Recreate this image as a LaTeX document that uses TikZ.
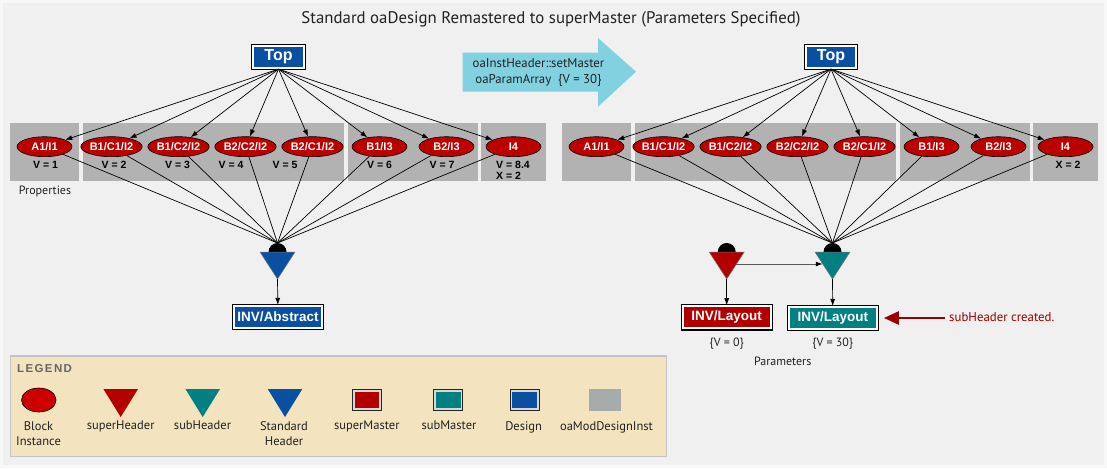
\documentclass[tikz,border=0pt]{standalone}
\usepackage{fontspec}
\setmainfont{PT Sans}
\newfontfamily\nodefont{Liberation Sans}
\usetikzlibrary{arrows.meta,shapes.geometric}
\definecolor{bgc}{HTML}{F0F0F0}
\definecolor{bgedge}{HTML}{F8F8F8}
\definecolor{oared}{HTML}{BB0000}
\definecolor{legred}{HTML}{CC0000}
\definecolor{oablue}{HTML}{0B4FA0}
\definecolor{oateal}{HTML}{008080}
\definecolor{grp}{HTML}{B2B2B2}
\definecolor{legbg}{HTML}{F3E3BF}
\definecolor{legborder}{HTML}{C4C4C4}
\definecolor{arrowblue}{HTML}{82D1E1}
\definecolor{darkred}{HTML}{9B0000}
\definecolor{modgray}{HTML}{A6ACA9}
\definecolor{txt}{HTML}{222222}
\newcommand\hdr[3]{% name, x, colour
  \fill[black] (#2,252) circle (9pt);
  \filldraw[fill=#3, draw=black!55, line width=0.5pt] (#2-17.5,252) -- (#2+17.5,252) -- (#2,279) -- cycle;
  \coordinate (#1-top) at (#2,243);
  \coordinate (#1-tip) at (#2,279);
  \coordinate (#1-r) at (#2+9.7,264);
  \coordinate (#1-l) at (#2-9.7,264);
}
\newcommand\legtri[2]{% x, colour
  \fill[#2] (#1-17.3,389) -- (#1+17.3,389) -- (#1,417) -- cycle;
}
\begin{document}
\begin{tikzpicture}[x=1pt,y=-1pt,
  inst/.style={ellipse, draw=black, line width=0.6pt, fill=oared, minimum width=55pt, minimum height=20pt, inner sep=0pt, text=white, font=\nodefont\bfseries\fontsize{11}{11}\selectfont},
  master/.style={preaction={draw=black, line width=4.4pt}, draw=white, line width=2.2pt, inner sep=0pt, minimum height=22pt, text=white, font=\nodefont\bfseries\fontsize{13.5}{13.5}\selectfont},
  legmaster/.style={preaction={draw=black!85, line width=3.6pt}, draw=white!85!black, line width=1.6pt, inner sep=0pt, minimum width=26.5pt, minimum height=18.5pt},
  vlab/.style={font=\nodefont\bfseries\fontsize{10.5}{10.5}\selectfont, text=black, inner sep=0pt},
  lab/.style={font=\fontsize{12}{14}\selectfont, text=txt, inner sep=0pt},
  leglab/.style={font=\fontsize{12.5}{15.5}\selectfont, text=txt, inner sep=0pt, align=center, anchor=north},
  grpbox/.style={fill=grp},
  edge/.style={line width=0.7pt, -{Latex[length=7pt,width=5pt]}},
  plain/.style={line width=0.7pt}]
\useasboundingbox (0,0) rectangle (1107,468);
\fill[bgedge] (0,0) rectangle (1107,468);
\fill[bgc] (3,3) rectangle (1104,465);
% title
\node[font=\fontsize{16.8}{20}\selectfont, text=txt] (title) at (551,19) {Standard oaDesign Remastered to superMaster (Parameters Specified)};
% big arrow
\fill[arrowblue] (462.7,52.7) -- (598,52.7) -- (598,38) -- (636,71.7) -- (598,106.7) -- (598,91.7) -- (462.7,91.7) -- cycle;
\node[lab, font=\fontsize{12.8}{16}\selectfont, align=center] (op) at (538.5,72) {oaInstHeader::setMaster\\oaParamArray\ \ \{V = 30\}};
% group boxes
\fill[grpbox] (10,123.3) rectangle (79,180.7);
\fill[grpbox] (83,123.3) rectangle (344,180.7);
\fill[grpbox] (347.5,123.3) rectangle (477.5,180.7);
\fill[grpbox] (481,123.3) rectangle (546,180.7);
\fill[grpbox] (562,123.3) rectangle (631,180.7);
\fill[grpbox] (635,123.3) rectangle (896,180.7);
\fill[grpbox] (899.5,123.3) rectangle (1029.5,180.7);
\fill[grpbox] (1033,123.3) rectangle (1098,180.7);
% Top nodes
\node[master, fill=oablue, minimum width=50.5pt, font=\nodefont\bfseries\fontsize{16}{16}\selectfont] (topL) at (278.5,57) {Top};
\node[master, fill=oablue, minimum width=50.5pt, font=\nodefont\bfseries\fontsize{16}{16}\selectfont] (topR) at (831,57) {Top};
% headers
\hdr{hL}{277.5}{oablue}
\hdr{hP}{726.7}{oared!95!black}
\hdr{hS}{832.5}{oateal}
% instances
\foreach \t [count=\i] in {A1/I1,B1/C1/I2,B1/C2/I2,B2/C2/I2,B2/C1/I2,B1/I3,B2/I3,I4}{
  \node[inst] (eL\i) at ({44.5+67*(\i-1)},146.7) {\t};
  \node[inst] (eR\i) at ({596.5+67*(\i-1)},146.7) {\t};
}
\foreach \i in {1,...,8}{
  \draw[edge] (topL.south) -- (eL\i);
  \draw[edge] (topR.south) -- (eR\i);
  \draw[plain] (eL\i) -- (hL-top);
  \draw[plain] (eR\i) -- (hS-top);
}
% property labels
\node[vlab] (p1) at (45.5,165) {V = 1};
\node[vlab] (p2) at (114,165) {V = 2};
\node[vlab] (p3) at (177.5,165) {V = 3};
\node[vlab] (p4) at (231,165) {V = 4};
\node[vlab] (p5) at (285,165) {V = 5};
\node[vlab] (p6) at (379.5,165) {V = 6};
\node[vlab] (p7) at (442,165) {V = 7};
\node[vlab, anchor=west] (p8) at (496,165) {V = 8.4};
\node[vlab, anchor=west] (p9) at (496,176) {X = 2};
\node[vlab] (p10) at (1068,165) {X = 2};
\node[lab] (props) at (45,191) {Properties};
% masters
\node[master, fill=oablue, minimum width=88pt] (absL) at (278,317) {INV/Abstract};
\node[master, fill=oared!95!black, minimum width=88pt] (layP) at (726.7,317.3) {INV/Layout};
\node[master, fill=oateal, minimum width=88pt] (layS) at (832.8,318) {INV/Layout};
\draw[edge] (hL-tip) -- (absL);
\draw[edge] (hP-tip) -- (layP);
\draw[edge] (hS-tip) -- (layS);
\draw[line width=1pt, draw=black!65, -{Latex[length=7pt,width=5pt,color=black]}] (hP-r) -- (hS-l);
\node[lab] (v0) at (726.7,343.5) {\{V = 0\}};
\node[lab] (v30) at (832.7,343.5) {\{V = 30\}};
\node[lab] (params) at (782.7,361.5) {Parameters};
\node[lab, anchor=west, text=darkred, font=\fontsize{12.8}{15}\selectfont] (note) at (949,317.3) {subHeader created.};
\draw[darkred, line width=2.6pt, -{Triangle[length=15pt,width=13pt]}] ([xshift=-4pt]note.west |- layS.east) -- ([xshift=6pt]layS.east);
% legend
\filldraw[fill=legbg, draw=legborder, line width=1.2pt] (10.7,356) rectangle (666.5,456.5);
\node[anchor=west, text=black!60, font=\nodefont\bfseries\fontsize{11.5}{11.5}\selectfont\addfontfeature{LetterSpace=12}, inner sep=0pt] (legtitle) at (17,369) {LEGEND};
\node[ellipse, draw=black, line width=0.6pt, fill=legred, minimum width=34.6pt, minimum height=24pt, inner sep=0pt] (lgInst) at (38.8,400) {};
\legtri{120.7}{oared!95!black}
\legtri{202.7}{oateal}
\legtri{285}{oablue}
\node[legmaster, fill=oared!95!black] (lgSup) at (367,400) {};
\node[legmaster, fill=oateal] (lgSub) at (448.4,400) {};
\node[legmaster, fill=oablue] (lgDes) at (524.6,400) {};
\fill[modgray] (589,388.5) rectangle (620.6,410.6);
\node[leglab] (lt1) at (38.5,421) {Block\\Instance};
\node[leglab] (lt2) at (120.7,421) {superHeader};
\node[leglab] (lt3) at (202.5,421) {subHeader};
\node[leglab] (lt4) at (284,421) {Standard\\Header};
\node[leglab] (lt5) at (366.8,421) {superMaster};
\node[leglab] (lt6) at (449,421) {subMaster};
\node[leglab] (lt7) at (523.6,421) {Design};
\node[leglab] (lt8) at (606.5,421) {oaModDesignInst};
\end{tikzpicture}
\end{document}
